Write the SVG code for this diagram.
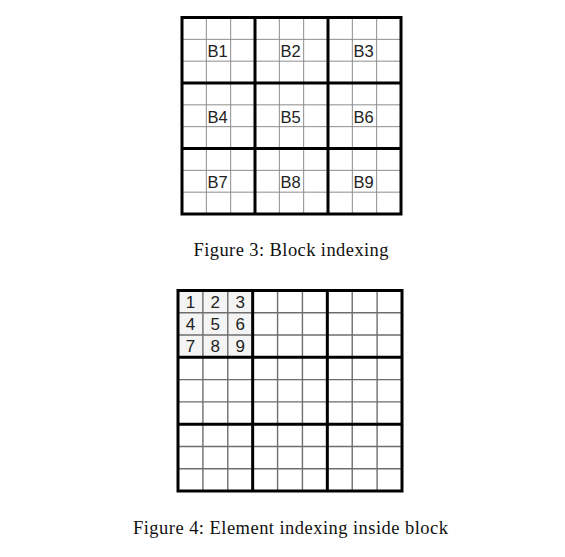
<svg xmlns="http://www.w3.org/2000/svg" width="565" height="557" viewBox="0 0 565 557">
<style>
.thin1{stroke:#8c8c8c;stroke-width:1;fill:none}
.thin2{stroke:#6e6e6e;stroke-width:1.4;fill:none}
.thick{stroke:#000;stroke-width:3;fill:none}
.lbl{font-family:"Liberation Sans",Arial,sans-serif;font-size:16.5px;fill:#222}
.dig{font-family:"Liberation Sans",Arial,sans-serif;font-size:17px;fill:#222;text-anchor:middle}
.cap{font-family:"Liberation Serif","Times New Roman",serif;font-size:18.5px;fill:#111}
</style>
<rect width="565" height="557" fill="#fff"/>
<g id="figure3">
  <g id="grid1-thin">
    <path class="thin1" d="M206.33 17.5V214M230.67 17.5V214M279.33 17.5V214M303.67 17.5V214M352.33 17.5V214M376.67 17.5V214M182 39.33H401M182 61.17H401M182 104.83H401M182 126.67H401M182 170.33H401M182 192.17H401"/>
  </g>
  <g id="grid1-thick">
    <path class="thick" d="M255 17.5V214M328 17.5V214M182 83H401M182 148.5H401"/>
    <rect class="thick" x="182" y="17.5" width="219" height="196.5"/>
  </g>
  <g id="B1"><text class="lbl" x="207.5" y="56.8">B1</text></g>
  <g id="B2"><text class="lbl" x="280.5" y="56.8">B2</text></g>
  <g id="B3"><text class="lbl" x="353.5" y="56.8">B3</text></g>
  <g id="B4"><text class="lbl" x="207.5" y="122.5">B4</text></g>
  <g id="B5"><text class="lbl" x="280.5" y="122.5">B5</text></g>
  <g id="B6"><text class="lbl" x="353.5" y="122.5">B6</text></g>
  <g id="B7"><text class="lbl" x="207.5" y="188.2">B7</text></g>
  <g id="B8"><text class="lbl" x="280.5" y="188.2">B8</text></g>
  <g id="B9"><text class="lbl" x="353.5" y="188.2">B9</text></g>
  <g id="caption3"><text class="cap" x="193.5" y="256" textLength="195" lengthAdjust="spacing">Figure 3: Block indexing</text></g>
</g>
<g id="figure4">
  <rect x="178" y="290.5" width="74.67" height="66.83" fill="#f4f4f4"/>
  <g id="grid2-thin">
    <path class="thin2" d="M202.89 290.5V491M227.78 290.5V491M277.56 290.5V491M302.44 290.5V491M352.22 290.5V491M377.11 290.5V491M178 312.78H402M178 335.06H402M178 379.61H402M178 401.89H402M178 446.44H402M178 468.72H402"/>
  </g>
  <g id="grid2-thick">
    <path class="thick" d="M252.67 290.5V491M327.33 290.5V491M178 357.33H402M178 424.17H402"/>
    <rect class="thick" x="178" y="290.5" width="224" height="200.5"/>
  </g>
  <g id="e1"><text class="dig" x="190.4" y="308">1</text></g>
  <g id="e2"><text class="dig" x="215.3" y="308">2</text></g>
  <g id="e3"><text class="dig" x="240.2" y="308">3</text></g>
  <g id="e4"><text class="dig" x="190.4" y="330.3">4</text></g>
  <g id="e5"><text class="dig" x="215.3" y="330.3">5</text></g>
  <g id="e6"><text class="dig" x="240.2" y="330.3">6</text></g>
  <g id="e7"><text class="dig" x="190.4" y="352">7</text></g>
  <g id="e8"><text class="dig" x="215.3" y="352">8</text></g>
  <g id="e9"><text class="dig" x="240.2" y="352">9</text></g>
  <g id="caption4"><text class="cap" x="133" y="534" textLength="315" lengthAdjust="spacing">Figure 4: Element indexing inside block</text></g>
</g>
</svg>
